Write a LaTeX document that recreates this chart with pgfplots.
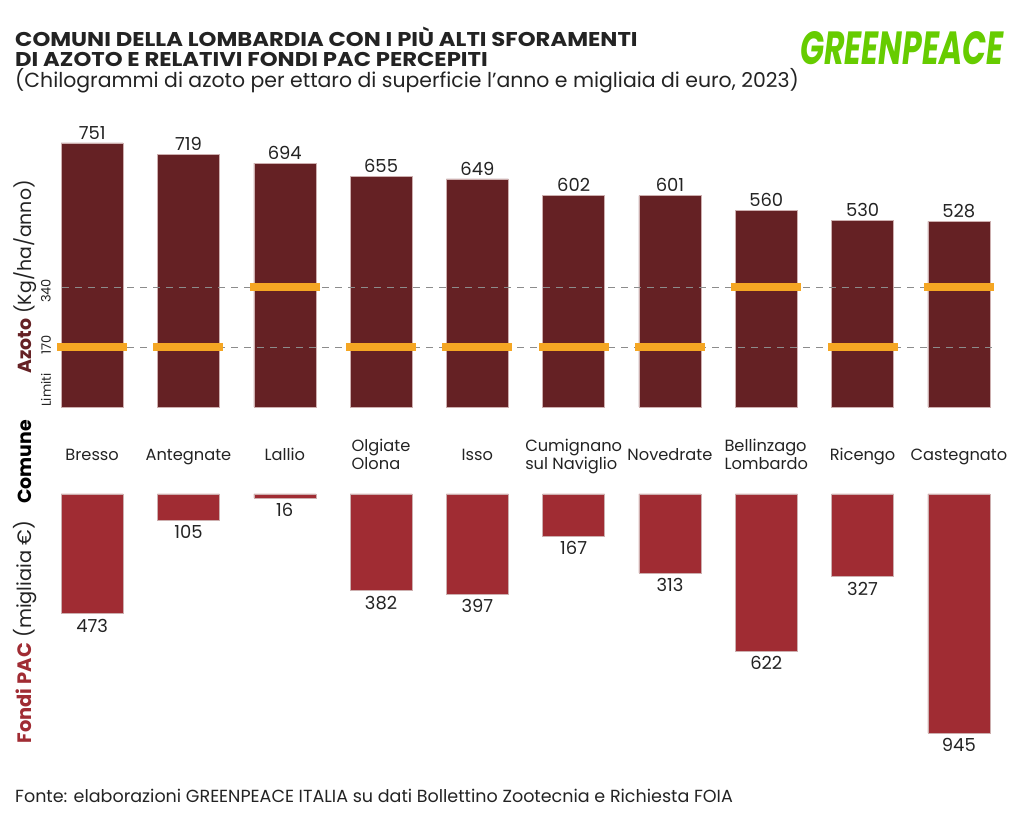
\documentclass[border=0pt]{standalone}
\usepackage{pgfplots}
\pgfplotsset{compat=1.18}
\usepackage{fontspec}
\setmainfont{Poppins}
\newfontfamily\titlefont[FakeStretch=1.14]{Poppins}
\definecolor{azoto}{RGB}{101,33,36}
\definecolor{fondi}{RGB}{160,44,51}
\definecolor{lim}{RGB}{245,166,35}
\definecolor{gp}{RGB}{102,204,0}
\definecolor{txt}{RGB}{35,35,35}
\definecolor{edge}{RGB}{205,175,175}
\pgfdeclareplotmark{limbar}{\pgfpathrectangle{\pgfpoint{-35bp}{-4bp}}{\pgfpoint{70bp}{8bp}}\pgfusepathqfill}
\pgfplotstableread{
x az fondi lim
0 751 473 170
1 719 105 170
2 694 16 340
3 655 382 170
4 649 397 170
5 602 167 170
6 601 313 170
7 560 622 340
8 530 327 170
9 528 945 340
}\data
\begin{document}
\begin{tikzpicture}
\useasboundingbox (0bp,0bp) rectangle (1024bp,822bp);
% titles
\node[anchor=base west, inner sep=0, text=txt, font=\titlefont\fontsize{20}{22}\selectfont\bfseries] at (15bp,775bp) {COMUNI DELLA LOMBARDIA CON I PIÙ ALTI SFORAMENTI};
\node[anchor=base west, inner sep=0, text=txt, font=\titlefont\fontsize{20}{22}\selectfont\bfseries] at (15bp,755bp) {DI AZOTO E RELATIVI FONDI PAC PERCEPITI};
\node[anchor=base west, inner sep=0, text=txt, font=\fontsize{20.5}{23}\selectfont] at (15bp,734bp) {(Chilogrammi di azoto per ettaro di superficie l'anno e migliaia di euro, 2023)};
\node[anchor=west, inner sep=0, text=gp] at (800bp,774bp) {\resizebox{203bp}{33bp}{\bfseries\itshape GREENPEACE}};
\node[anchor=base west, inner sep=0, text=txt, font=\fontsize{17.6}{19}\selectfont] at (15bp,20bp) {Fonte: elaborazioni GREENPEACE ITALIA su dati Bollettino Zootecnia e Richiesta FOIA};
% left labels
\node[rotate=90, inner sep=0, text=txt, font=\fontsize{19}{21}\selectfont] at (25bp,545bp) {\textcolor{azoto}{\bfseries Azoto} (Kg/ha/anno)};
\node[rotate=90, inner sep=0, text=txt, font=\fontsize{13}{15}\selectfont] at (46bp,432bp) {Limiti};
\node[rotate=90, inner sep=0, text=txt, font=\fontsize{13}{15}\selectfont] at (46bp,477bp) {170};
\node[rotate=90, inner sep=0, text=txt, font=\fontsize{13}{15}\selectfont] at (46bp,531bp) {340};
\node[rotate=90, inner sep=0, text=black, font=\fontsize{19}{21}\selectfont\bfseries] at (25bp,360bp) {Comune};
\node[rotate=90, inner sep=0, text=txt, font=\fontsize{19.5}{21}\selectfont] at (25bp,190bp) {\textcolor{fondi}{\bfseries Fondi PAC} (migliaia €)};
% top axis
\begin{axis}[at={(44bp,415bp)}, anchor=south west, scale only axis,
  width=963bp, height=264bp, xmin=-0.5, xmax=9.5, ymin=0, ymax=751,
  axis line style={draw=none}, ytick=\empty, xtick={0,...,9}, major tick length=0,
  xticklabels={\strut Bresso,\strut Antegnate,\strut Lallio,{\strut Olgiate\\\strut Olona},\strut Isso,{\strut Cumignano\\\strut sul Naviglio},\strut Novedrate,{\strut Bellinzago\\\strut Lombardo},\strut Ricengo,\strut Castegnato},
  xticklabel style={align=left, anchor=center, inner sep=0pt, yshift=-50bp, text=txt, font=\fontsize{16.3}{16.5}\selectfont},
  /pgf/number format/assume math mode=true,
  clip=false]
\addplot[ybar, bar width=62bp, fill=azoto, draw=edge, line width=0.5bp,
  nodes near coords, every node near coord/.append style={text=txt, font=\fontsize{18}{20}\selectfont, inner sep=3.5bp}]
  table[x=x, y=az] {\data};
\draw[color={rgb,255:red,140;green,140;blue,140}, line width=1.4bp, dash pattern=on 7bp off 6bp] (axis cs:-0.31,340) -- (axis cs:9.4,340);
\draw[color={rgb,255:red,140;green,140;blue,140}, line width=1.4bp, dash pattern=on 7bp off 6bp] (axis cs:-0.31,170) -- (axis cs:9.4,170);
\addplot[only marks, mark=limbar, color=lim] table[x=x, y=lim] {\data};
\end{axis}
% bottom axis
\begin{axis}[at={(44bp,328bp)}, anchor=north west, scale only axis, y dir=reverse,
  width=963bp, height=239bp, xmin=-0.5, xmax=9.5, ymin=0, ymax=945,
  axis line style={draw=none}, ytick=\empty, xtick=\empty, major tick length=0,
  /pgf/number format/assume math mode=true,
  clip=false]
\addplot[ybar, bar width=62bp, fill=fondi, draw=edge, line width=0.5bp,
  nodes near coords, every node near coord/.append style={anchor=north, text=txt, font=\fontsize{18}{20}\selectfont, inner sep=5bp}]
  table[x=x, y=fondi] {\data};
\end{axis}
\end{tikzpicture}
\end{document}
